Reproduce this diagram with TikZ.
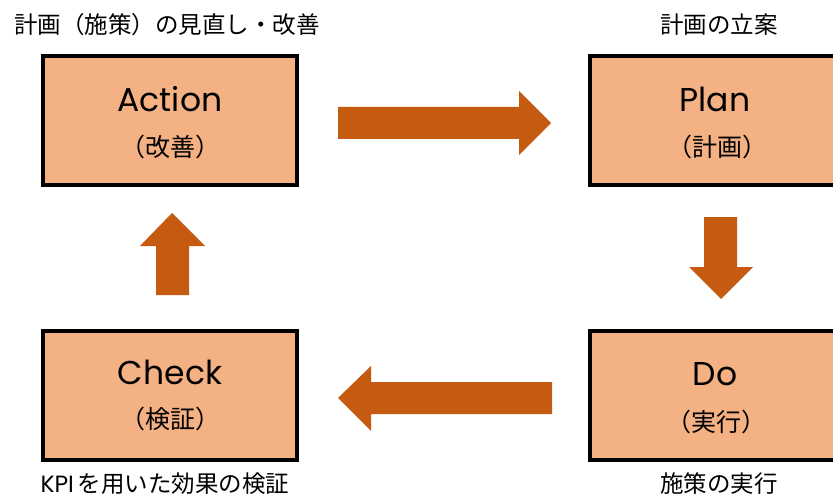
\documentclass[tikz,border=0pt]{standalone}
\usepackage{fontspec}
\setmainfont{Noto Sans CJK JP}
\newfontfamily\lat{Poppins}
\definecolor{boxfill}{HTML}{F4B183}
\definecolor{arrowfill}{HTML}{C55A11}
\begin{document}
\begin{tikzpicture}[x=1pt,y=-1pt,
  pbox/.style={draw=black, line width=4pt, fill=boxfill, minimum width=254pt, minimum height=129pt, inner sep=0pt},
  big/.style={font=\lat\fontsize{33}{36}\selectfont, inner sep=0pt},
  jp/.style={font=\fontsize{25}{28}\selectfont, inner sep=0pt},
  lbl/.style={font=\fontsize{23.5}{26}\selectfont, inner sep=0pt},
  blockarrow/.style={fill=arrowfill, draw=none}]
\useasboundingbox (0,0) rectangle (833,500);
\clip (0,0) rectangle (833,500);
% boxes
\node[pbox] (A) at (170,120.5) {};
\node[pbox] (P) at (717,120.5) {};
\node[pbox] (C) at (170,395) {};
\node[pbox] (D) at (717,395) {};
% box texts
\node[big] (At) at (170,99) {Action};
\node[jp] (Aj) at (170,147) {（改善）};
\node[big] (Pt) at (715,99) {Plan};
\node[jp] (Pj) at (717,147) {（計画）};
\node[big] (Ct) at (170,372) {Check};
\node[jp] (Cj) at (170,419) {（検証）};
\node[big] (Dt) at (715,374) {Do};
\node[jp] (Dj) at (716,422) {（実行）};
% outer labels
\node[lbl] (La) at (167,25) {計画（施策）の見直し・改善};
\node[lbl] (Lp) at (719,25) {計画の立案};
\node[lbl] (Lc) at (165,484) {{\lat KPI}\,を用いた効果の検証};
\node[lbl] (Ld) at (719,484) {施策の実行};
% block arrows
\fill[blockarrow] (338,107) -- (519,107) -- (519,91) -- (551,123) -- (519,155) -- (519,139) -- (338,139) -- cycle;
\fill[blockarrow] (704,217) -- (737,217) -- (737,267) -- (753,267) -- (721,299) -- (689,267) -- (704,267) -- cycle;
\fill[blockarrow] (552,382) -- (371,382) -- (371,366) -- (338,398) -- (371,431) -- (371,414) -- (552,414) -- cycle;
\fill[blockarrow] (156,295) -- (156,246) -- (140,246) -- (172,213) -- (205,246) -- (189,246) -- (189,295) -- cycle;
\end{tikzpicture}
\end{document}
